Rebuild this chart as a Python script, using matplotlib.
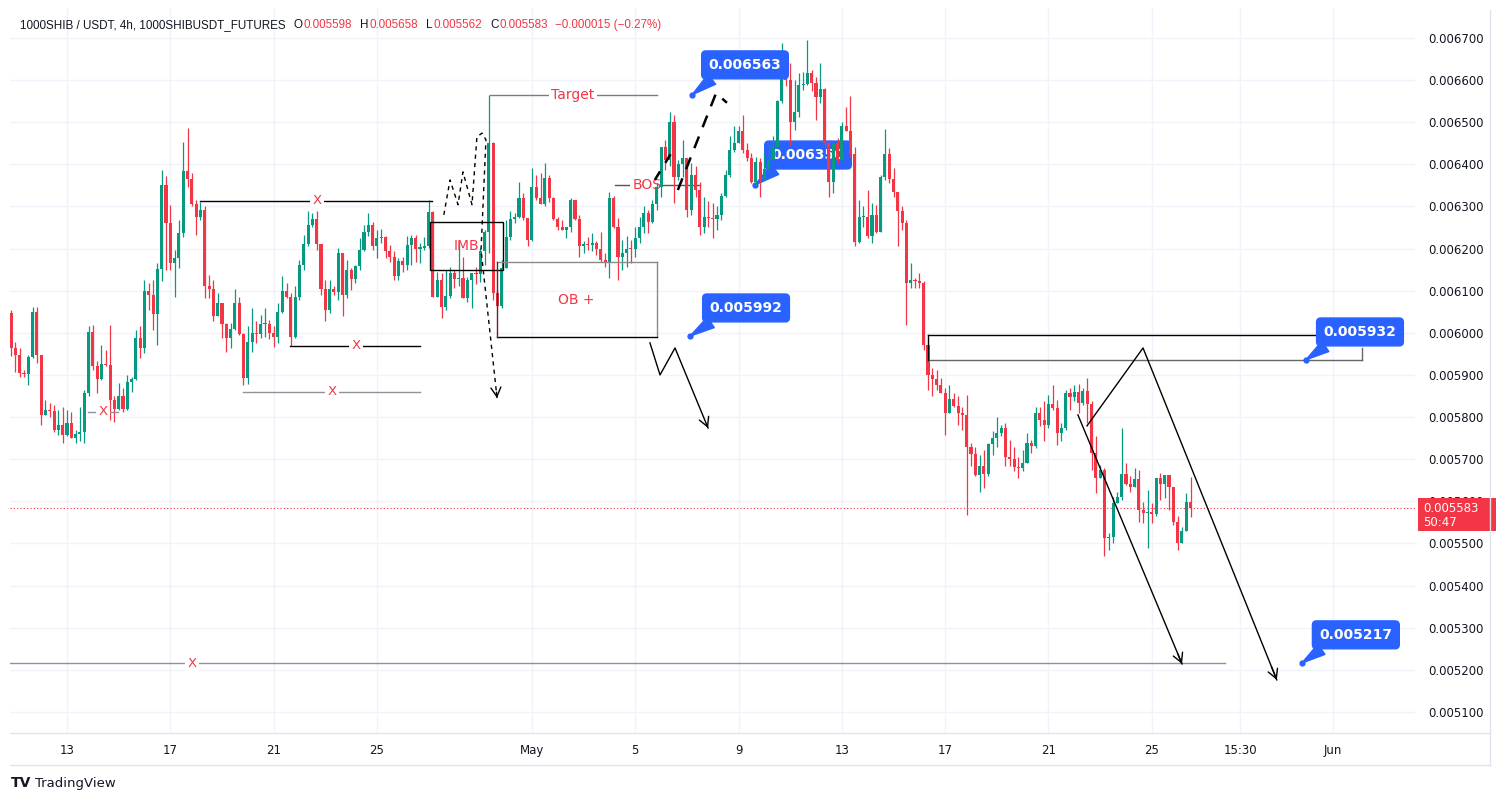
import numpy as np
import pandas as pd
import matplotlib
matplotlib.use("Agg")
import matplotlib.pyplot as plt
import matplotlib.transforms as mtrans
from matplotlib.patches import Rectangle

# 4h candles, prices in units of 0.000001 (5583 -> 0.005583)
first_open = 6047
closes = [
    5964, 5947, 5905, 5903, 5943, 6050, 5948, 5805, 5817, 5815, 5770, 5780, 5757, 5785, 5750, 5760, 5765, 5857, 6002, 5920,
    5890, 5925, 5923, 5840, 5820, 5850, 5820, 5883, 5890, 5988, 5963, 6100, 6090, 6045, 6152, 6350, 6260, 6165, 6178, 6237,
    6385, 6365, 6305, 6275, 6292, 6110, 6105, 6040, 6070, 6020, 5988, 6010, 6070, 5997, 5893, 5978, 6000, 5998, 6020, 6022,
    6000, 5990, 6050, 6100, 6085, 5990, 6085, 6160, 6210, 6255, 6270, 6210, 6105, 6055, 6105, 6098, 6190, 6090, 6150, 6127,
    6158, 6197, 6240, 6255, 6205, 6225, 6228, 6195, 6180, 6135, 6170, 6162, 6208, 6225, 6200, 6202, 6205, 6287, 6085, 6125,
    6062, 6087, 6143, 6128, 6130, 6083, 6125, 6143, 6140, 6193, 6240, 6450, 6095, 6064, 6155, 6228, 6270, 6275, 6320, 6272,
    6220, 6345, 6320, 6305, 6367, 6320, 6270, 6252, 6245, 6250, 6315, 6270, 6205, 6210, 6208, 6212, 6200, 6173, 6165, 6320,
    6252, 6180, 6190, 6200, 6198, 6225, 6250, 6285, 6262, 6305, 6345, 6440, 6410, 6500, 6370, 6400, 6415, 6292, 6375, 6340,
    6250, 6275, 6272, 6270, 6280, 6325, 6375, 6435, 6450, 6478, 6435, 6415, 6358, 6405, 6365, 6390, 6410, 6440, 6550, 6617,
    6600, 6500, 6525, 6588, 6590, 6617, 6593, 6560, 6578, 6450, 6358, 6450, 6410, 6490, 6480, 6425, 6215, 6275, 6275, 6230,
    6280, 6240, 6370, 6425, 6365, 6335, 6288, 6260, 6118, 6125, 6122, 6118, 5970, 5900, 5890, 5875, 5857, 5810, 5842, 5826,
    5810, 5805, 5730, 5712, 5663, 5683, 5665, 5735, 5750, 5763, 5775, 5705, 5700, 5682, 5680, 5690, 5738, 5732, 5810, 5793,
    5780, 5830, 5821, 5762, 5775, 5858, 5848, 5860, 5833, 5862, 5830, 5715, 5655, 5675, 5513, 5515, 5597, 5610, 5665, 5642,
    5633, 5653, 5580, 5573, 5575, 5570, 5655, 5640, 5663, 5633, 5550, 5500, 5530, 5598, 5583,
]
highs = [
    6054, 5979, 5963, 5912, 5947, 6061, 6061, 5947, 5841, 5833, 5829, 5817, 5825, 5817, 5813, 5769, 5825, 5864, 6015, 6019,
    5932, 5971, 5959, 6019, 5849, 5880, 5868, 5900, 5896, 6007, 6015, 6126, 6118, 6126, 6165, 6387, 6372, 6304, 6197, 6268,
    6454, 6486, 6379, 6315, 6311, 6300, 6138, 6126, 6094, 6066, 6023, 6023, 6104, 6086, 5999, 6015, 6058, 6027, 6043, 6058,
    6031, 6015, 6070, 6134, 6118, 6094, 6110, 6173, 6232, 6288, 6284, 6288, 6209, 6126, 6126, 6110, 6201, 6189, 6173, 6153,
    6161, 6225, 6256, 6284, 6264, 6244, 6246, 6229, 6209, 6193, 6177, 6181, 6229, 6232, 6232, 6212, 6228, 6315, 6288, 6145,
    6141, 6149, 6157, 6149, 6216, 6181, 6133, 6141, 6157, 6201, 6244, 6565, 6454, 6102, 6173, 6268, 6288, 6284, 6359, 6331,
    6272, 6391, 6375, 6379, 6403, 6375, 6323, 6276, 6268, 6252, 6319, 6315, 6280, 6217, 6228, 6236, 6217, 6240, 6189, 6335,
    6324, 6272, 6221, 6229, 6221, 6252, 6276, 6300, 6292, 6315, 6355, 6442, 6458, 6525, 6517, 6410, 6458, 6414, 6402, 6395,
    6359, 6323, 6312, 6308, 6300, 6331, 6387, 6466, 6490, 6490, 6517, 6450, 6426, 6418, 6414, 6426, 6446, 6466, 6553, 6687,
    6664, 6640, 6600, 6616, 6620, 6695, 6624, 6608, 6640, 6581, 6458, 6450, 6462, 6501, 6537, 6561, 6442, 6315, 6300, 6339,
    6308, 6304, 6375, 6483, 6438, 6391, 6335, 6300, 6268, 6165, 6130, 6141, 6122, 5971, 5916, 5912, 5892, 5868, 5876, 5857,
    5849, 5825, 5853, 5738, 5730, 5710, 5722, 5738, 5766, 5801, 5781, 5785, 5746, 5730, 5706, 5722, 5762, 5746, 5825, 5825,
    5837, 5853, 5876, 5841, 5785, 5864, 5868, 5876, 5879, 5868, 5892, 5837, 5754, 5686, 5679, 5524, 5611, 5623, 5774, 5690,
    5659, 5679, 5675, 5599, 5627, 5596, 5647, 5667, 5643, 5635, 5615, 5564, 5540, 5619, 5658,
]
lows = [
    5944, 5908, 5896, 5896, 5876, 5940, 5928, 5781, 5805, 5801, 5765, 5758, 5738, 5754, 5750, 5738, 5742, 5738, 5849, 5912,
    5857, 5888, 5920, 5793, 5789, 5817, 5813, 5817, 5860, 5888, 5940, 5951, 6054, 6007, 5971, 6122, 6148, 6149, 6086, 6153,
    6228, 6347, 6300, 6232, 6268, 6082, 6082, 6027, 6039, 5987, 5955, 5963, 6007, 5995, 5875, 5879, 5955, 5975, 5987, 5991,
    5985, 5967, 5975, 6047, 6082, 5969, 5987, 6078, 6149, 6205, 6252, 6197, 6090, 6027, 6047, 6090, 6078, 6039, 6082, 6102,
    6118, 6149, 6193, 6229, 6197, 6177, 6213, 6177, 6169, 6126, 6126, 6145, 6149, 6161, 6169, 6165, 6197, 6201, 6086, 6086,
    6034, 6054, 6082, 6106, 6110, 6082, 6074, 6058, 6117, 6121, 6161, 6189, 6078, 6062, 6058, 6157, 6220, 6260, 6272, 6268,
    6205, 6217, 6315, 6307, 6300, 6311, 6268, 6244, 6244, 6225, 6240, 6268, 6181, 6189, 6197, 6193, 6185, 6169, 6157, 6130,
    6248, 6126, 6149, 6157, 6165, 6181, 6213, 6236, 6236, 6260, 6292, 6323, 6387, 6395, 6308, 6363, 6371, 6276, 6280, 6323,
    6232, 6236, 6252, 6225, 6244, 6268, 6323, 6371, 6430, 6450, 6426, 6407, 6355, 6351, 6323, 6363, 6387, 6426, 6454, 6545,
    6585, 6446, 6482, 6513, 6577, 6588, 6573, 6505, 6545, 6442, 6323, 6331, 6402, 6410, 6482, 6418, 6205, 6213, 6252, 6225,
    6213, 6236, 6240, 6363, 6355, 6323, 6205, 6244, 6019, 6106, 6106, 6106, 5959, 5865, 5849, 5865, 5857, 5758, 5809, 5825,
    5782, 5770, 5568, 5683, 5659, 5623, 5631, 5659, 5710, 5730, 5754, 5683, 5683, 5671, 5655, 5671, 5698, 5714, 5726, 5778,
    5742, 5774, 5817, 5734, 5742, 5770, 5817, 5837, 5809, 5829, 5785, 5675, 5619, 5655, 5469, 5485, 5501, 5596, 5603, 5639,
    5623, 5635, 5552, 5548, 5489, 5548, 5564, 5603, 5607, 5580, 5544, 5485, 5502, 5532, 5562,
]

first_time = "2025-04-10 20:00"
day_zero = pd.Timestamp("2025-04-13")
tick_dates = ["2025-04-13 00:00", "2025-04-17 00:00", "2025-04-21 00:00", "2025-04-25 00:00", "2025-05-01 00:00",
              "2025-05-05 00:00", "2025-05-09 00:00", "2025-05-13 00:00", "2025-05-17 00:00", "2025-05-21 00:00",
              "2025-05-25 00:00", "2025-05-28 10:00", "2025-06-01 00:00"]
tick_labels = ["13", "17", "21", "25", "May", "5", "9", "13", "17", "21", "25", "15:30", "Jun"]
price_ticks = list(range(5100, 6701, 100))
last_price = 5583

UP = "#089981"
DN = "#f23645"
BLUE = "#2962ff"
INK = "#131722"
GRID = "#f0f3fa"

times = pd.date_range(first_time, periods=len(closes), freq="4h")
x = ((times - day_zero) / pd.Timedelta(days=1)).to_numpy()
c = np.array(closes, dtype=float)
o = np.concatenate([[first_open], c[:-1]])
h = np.maximum(np.array(highs, dtype=float), np.maximum(o, c))
l = np.minimum(np.array(lows, dtype=float), np.minimum(o, c))
cols = np.where(c >= o, UP, DN)

fig = plt.figure(figsize=(15, 8.01), dpi=100)
W, H = 1500, 801
ax = fig.add_axes([10 / W, (H - 733) / H, (1415 - 10) / W, (733 - 8) / H])
ax.set_xlim(-2.207, 52.19)
ax.set_ylim(5050, 6771)
for s in ax.spines.values():
    s.set_visible(False)

# grid
tick_x = ((pd.to_datetime(tick_dates, format="%Y-%m-%d %H:%M") - day_zero) / pd.Timedelta(days=1)).to_numpy()
for p in price_ticks:
    ax.axhline(p, color=GRID, lw=1, zorder=0)
for tx in tick_x:
    ax.axvline(tx, color=GRID, lw=1, zorder=0)

# candles
ax.vlines(x, l, h, colors=cols, lw=0.9, zorder=3)
body = np.maximum(np.abs(c - o), 2.5)
ax.bar(x, body, width=0.12, bottom=np.minimum(o, c), color=cols, lw=0, zorder=3)

# axes ticks
ax.yaxis.tick_right()
ax.set_yticks(price_ticks)
ax.set_yticklabels([f"{p / 1e6:.6f}" for p in price_ticks])
ax.set_xticks(tick_x)
ax.set_xticklabels(tick_labels)
ax.tick_params(axis="y", length=0, pad=9.5, labelsize=8.5, labelcolor=INK)
ax.tick_params(axis="x", length=0, pad=8, labelsize=8.5, labelcolor=INK)

# last price
ax.axhline(last_price, color=DN, lw=0.8, ls=(0, (1, 2)), zorder=2)
bt = mtrans.blended_transform_factory(ax.transAxes, ax.transData)
ax.add_patch(Rectangle((1 + 3 / 1405, last_price - 53), 78 / 1405, 78, transform=bt, fc=DN, ec="none",
                       clip_on=False, zorder=10))
ax.text(1 + 8 / 1405, last_price, f"{last_price / 1e6:.6f}", transform=bt, color="white", fontsize=8.5,
        va="center", ha="left", clip_on=False, zorder=11)
ax.text(1 + 8 / 1405, last_price - 33, "50:47", transform=bt, color="white", fontsize=8.5,
        va="center", ha="left", clip_on=False, zorder=11)


def xline(d0, d1, price, dx, color):
    ax.plot([d0, d1], [price, price], color=color, lw=1, zorder=4)
    ax.text(dx, price, "X", color=DN, fontsize=9.5, ha="center", va="center", zorder=5,
            bbox=dict(fc="white", ec="none", pad=1.5))


xline(5.15, 14.13, 6313, 9.68, "black")
xline(8.63, 13.67, 5969, 11.19, "black")
xline(6.81, 13.67, 5860, 10.26, "#8f929b")
xline(0.81, 1.97, 5812, 1.39, "#8f929b")
xline(-2.207, 44.83, 5216, 4.84, "#8f929b")

# Target and BOS
ax.plot([16.38, 22.84], [6565, 6565], color="#787b86", lw=1, zorder=4)
ax.text(19.59, 6565, "Target", color=DN, fontsize=10, ha="center", va="center", zorder=5,
        bbox=dict(fc="white", ec="none", pad=2))
ax.plot([21.22, 24.51], [6351, 6351], color="#555", lw=1, zorder=2)
ax.text(22.45, 6351, "BOS", color=DN, fontsize=10, ha="center", va="center", zorder=2,
        bbox=dict(fc="white", ec="none", pad=1.5))

# IMB box
ax.add_patch(Rectangle((14.05, 6149), 16.88 - 14.05, 6263 - 6149, fc="none", ec="black", lw=1, zorder=4))
ax.text(15.45, 6206, "IMB", color=DN, fontsize=10, ha="center", va="center", zorder=5)

# OB box
ax.plot([16.65, 22.84], [6168, 6168], color="#8a8a8a", lw=1, zorder=4)
ax.plot([22.84, 22.84], [6168, 5990], color="#8a8a8a", lw=1, zorder=4)
ax.plot([16.65, 22.84], [5990, 5990], color="black", lw=1, zorder=4)
ax.plot([16.65, 16.65], [6168, 5990], color="#6b1f24", lw=1, zorder=4)
ax.text(19.71, 6079, "OB +", color=DN, fontsize=10, ha="center", va="center", zorder=5)

# range lines on the right
ax.plot([33.33, 50.14], [5995, 5995], color="black", lw=1, zorder=4)
ax.plot([33.33, 50.14], [5936, 5936], color="#666", lw=1, zorder=4)
ax.plot([33.33, 33.33], [5995, 5936], color="black", lw=1, zorder=4)
ax.plot([50.14, 50.14], [5965, 5936], color="#666", lw=1, zorder=4)


def head(p0, p1, lw=1, scale=12):
    q = (p1[0] - 0.04 * (p1[0] - p0[0]), p1[1] - 0.04 * (p1[1] - p0[1]))
    ax.annotate("", xy=p1, xytext=q, zorder=6,
                arrowprops=dict(arrowstyle="->,head_length=0.55,head_width=0.3", color="black", lw=lw,
                                shrinkA=0, shrinkB=0, mutation_scale=scale))


# dashed projection near IMB
px1 = [14.59, 14.83, 15.14, 15.33, 15.68, 15.87, 16.07, 16.22, 16.03, 16.65]
py1 = [6280, 6363, 6304, 6382, 6304, 6465, 6474, 6458, 6197, 5845]
ax.plot(px1, py1, color="black", lw=1, ls=(0, (3, 3)), zorder=6)
head((px1[-2], py1[-2]), (px1[-1], py1[-1]))

# dashed projection to 0.006563
ax.plot([22.76, 23.42], [6363, 6429], color="black", lw=1.8, ls=(0, (4, 4)), zorder=6)
ax.plot([23.65, 25.13, 25.55], [6339, 6569, 6546], color="black", lw=1.8, ls=(0, (5, 4)), zorder=6)

# zigzag from OB
zx = [22.57, 22.96, 23.54, 24.82]
zy = [5976, 5900, 5964, 5774]
ax.plot(zx, zy, color="black", lw=1, zorder=6)
head((zx[-2], zy[-2]), (zx[-1], zy[-1]))

# right side projections
rx = [39.49, 41.66, 46.84]
ry = [5779, 5964, 5176]
ax.plot(rx, ry, color="black", lw=1, zorder=6)
head((rx[-2], ry[-2]), (rx[-1], ry[-1]))
ax.plot([39.14, 43.17], [5805, 5214], color="black", lw=1, zorder=6)
head((39.14, 5805), (43.17, 5214))


def callout(text, xy, xytext, z=8):
    ax.annotate(text, xy=xy, xytext=xytext, ha="center", va="center", color="white", fontsize=10,
                fontweight="bold", zorder=z,
                bbox=dict(boxstyle="round,pad=0.5,rounding_size=0.3", fc=BLUE, ec=BLUE),
                arrowprops=dict(arrowstyle="wedge,tail_width=0.9,shrink_factor=0.5", fc=BLUE, ec=BLUE,
                                relpos=(0.2, 0.1), shrinkA=0, shrinkB=0))
    ax.plot([xy[0]], [xy[1]], "o", ms=3.5, color=BLUE, zorder=z)


callout("0.006563", (24.20, 6565), (26.25, 6636))
callout("0.006350", (26.64, 6351), (28.69, 6422), z=2.5)
callout("0.005992", (24.12, 5992), (26.29, 6059))
callout("0.005932", (47.97, 5936), (50.06, 6002))
callout("0.005217", (47.81, 5216), (49.90, 5283))

# header, pieces laid out one after another
hy = 1 - 25 / H
parts = [("1000SHIB / USDT, 4h, 1000SHIBUSDT_FUTURES", INK, 8), ("O", INK, 1), ("0.005598", DN, 8),
         ("H", INK, 1), ("0.005658", DN, 8), ("L", INK, 1), ("0.005562", DN, 8),
         ("C", INK, 1), ("0.005583", DN, 7), ("\u22120.000015 (\u22120.27%)", DN, 0)]
renderer = fig.canvas.get_renderer()
cur = 20
for s, col, gap in parts:
    t = fig.text(cur / W, hy, s, color=col, fontsize=8.4, family="Liberation Sans", va="center", ha="left")
    cur += t.get_window_extent(renderer).width + gap

# frame lines
fig.add_artist(plt.Line2D([10 / W, 1490 / W], [1 - 733 / H, 1 - 733 / H], color="#e0e3eb", lw=1))
fig.add_artist(plt.Line2D([10 / W, 1490 / W], [1 - 765 / H, 1 - 765 / H], color="#e0e3eb", lw=1))
fig.add_artist(plt.Line2D([1490 / W, 1490 / W], [1 - 765 / H, 1 - 10 / H], color="#e0e3eb", lw=1))

# footer
fig.text(11 / W, 1 - 783 / H, "TV", fontsize=10, fontweight="heavy", color=INK, va="center", ha="left")
fig.text(35 / W, 1 - 783 / H, "TradingView", fontsize=9.5, color=INK, va="center", ha="left")

fig.savefig("out.png", dpi=100, facecolor="white")
